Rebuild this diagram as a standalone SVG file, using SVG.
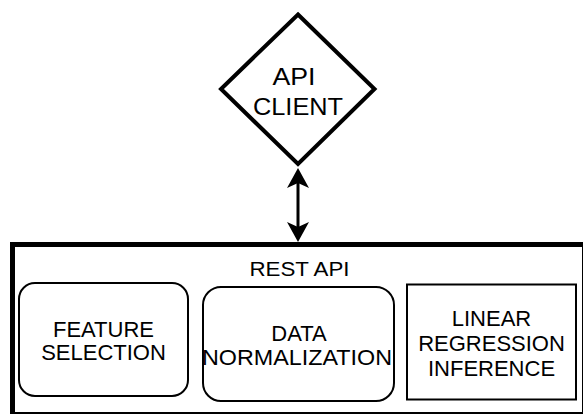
<svg xmlns="http://www.w3.org/2000/svg" width="583" height="414" viewBox="0 0 583 414">
<style>
  .lbl { font-family: "Liberation Sans", Arial, sans-serif; fill: #000; text-anchor: middle; }
  .box { fill: #fff; stroke: #000; stroke-width: 2; }
</style>
<defs>
  <marker id="arr" viewBox="0 0 20 22" refX="15" refY="11" markerWidth="20" markerHeight="22" markerUnits="userSpaceOnUse" orient="auto-start-reverse">
    <path d="M0,0 L20,11 L0,22 L5,11 Z" fill="#000"/>
  </marker>
</defs>
<rect width="583" height="414" fill="#fff"/>
<g id="rest-api">
  <rect x="12.5" y="244.5" width="572" height="170" fill="#fff" stroke="#000" stroke-width="5"/>
  <text class="lbl" x="299.5" y="275.5" font-size="20" textLength="100" lengthAdjust="spacingAndGlyphs">REST API</text>
</g>
<g id="feature-selection">
  <rect class="box" x="19" y="283" width="169" height="113" rx="16"/>
  <text class="lbl" x="103.5" y="336.5" font-size="22">FEATURE</text>
  <text class="lbl" x="103.5" y="360" font-size="22">SELECTION</text>
</g>
<g id="data-normalization">
  <rect class="box" x="203" y="287" width="191" height="114" rx="18"/>
  <text class="lbl" x="299" y="341" font-size="22">DATA</text>
  <text class="lbl" x="297" y="364.5" font-size="22" textLength="190" lengthAdjust="spacingAndGlyphs">NORMALIZATION</text>
</g>
<g id="linear-regression">
  <rect class="box" x="407" y="284.5" width="169" height="115"/>
  <text class="lbl" x="491.5" y="325.7" font-size="22">LINEAR</text>
  <text class="lbl" x="491.5" y="351" font-size="22">REGRESSION</text>
  <text class="lbl" x="491.5" y="376" font-size="22">INFERENCE</text>
</g>
<g id="api-client">
  <polygon points="298,14.5 374.5,89 298,164 221,89" fill="#fff" stroke="#000" stroke-width="4"/>
  <text class="lbl" x="294" y="85" font-size="24" textLength="43" lengthAdjust="spacingAndGlyphs">API</text>
  <text class="lbl" x="298" y="115" font-size="24" textLength="90" lengthAdjust="spacingAndGlyphs">CLIENT</text>
</g>
<g id="connectors">
  <line x1="298" y1="173" x2="298" y2="237" stroke="#000" stroke-width="3" marker-start="url(#arr)" marker-end="url(#arr)"/>
</g>
</svg>
